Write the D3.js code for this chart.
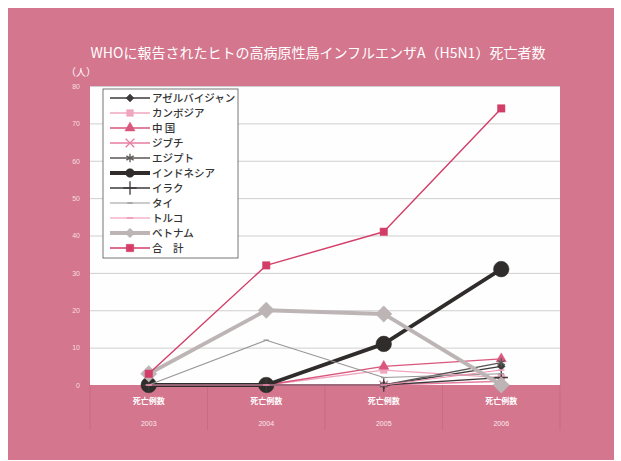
<!DOCTYPE html>
<html>
<head>
<meta charset="utf-8">
<script src="https://cdn.jsdelivr.net/npm/d3@7"></script>
<style>
    body { margin: 0; background: #fff; }
    svg { display: block; font-family: "Noto Sans CJK JP", "Noto Sans", sans-serif; }
</style>
</head>
<body>
<div id="root"></div>
<script>
const years = ['2003', '2004', '2005', '2006'];
const catLabel = '死亡例数';
const yTicks = [0, 10, 20, 30, 40, 50, 60, 70, 80];

// deaths per year
const azerbaijan = [0, 0, 0, 5];
const cambodia = [0, 0, 4, 2];
const china = [0, 0, 5, 7];
const djibouti = [0, 0, 0, 1];
const egypt = [0, 0, 0, 6];
const indonesia = [0, 0, 11, 31];
const iraq = [0, 0, 0, 2];
const thailand = [0, 12, 2, 3];
const turkey = [0, 0, 0, 4];
const vietnam = [3, 20, 19, 0];
const total = [3, 32, 41, 74];

const names = ['アゼルバイジャン', 'カンボジア', '中 国', 'ジブチ', 'エジプト', 'インドネシア', 'イラク', 'タイ', 'トルコ', 'ベトナム', '合　計'];
const values = [azerbaijan, cambodia, china, djibouti, egypt, indonesia, iraq, thailand, turkey, vietnam, total];

const dash = { draw(ctx, size) { const r = Math.sqrt(size) / 2; ctx.moveTo(-r, 0); ctx.lineTo(r, 0); } };

const styles = [
    { color: '#3d3a3a', width: 1.3, symbol: d3.symbolDiamond2, size: 40, fill: true },
    { color: '#efa6bf', width: 1.3, symbol: d3.symbolSquare, size: 45, fill: true },
    { color: '#d9567c', width: 1.3, symbol: d3.symbolTriangle, size: 45, fill: true },
    { color: '#e77da0', width: 1.3, symbol: d3.symbolTimes, size: 50, fill: false },
    { color: '#5a5656', width: 1.3, symbol: d3.symbolAsterisk, size: 50, fill: false },
    { color: '#2f2c2b', width: 3.8, symbol: d3.symbolCircle, size: 190, fill: true },
    { color: '#3d3a3a', width: 1.3, symbol: d3.symbolPlus, size: 60, fill: false },
    { color: '#9a9696', width: 1.1, symbol: dash, size: 30, fill: false },
    { color: '#f08db0', width: 1.1, symbol: dash, size: 40, fill: false },
    { color: '#bdb5b5', width: 3.8, symbol: d3.symbolDiamond2, size: 170, fill: true },
    { color: '#d33d68', width: 1.4, symbol: d3.symbolSquare, size: 55, fill: true },
];

const W = 621;
const H = 461;
const plot = { left: 90, right: 560, top: 86, bottom: 385 };

const svg = d3.select('#root')
    .append('svg')
    .attr('width', W)
    .attr('height', H);

svg.append('rect')
    .attr('x', 8).attr('y', 8)
    .attr('width', 606).attr('height', 452)
    .attr('fill', '#d4768d');

const x = d3.scaleBand().domain(years).range([plot.left, plot.right]);
const y = d3.scaleLinear().domain([0, 80]).range([plot.bottom, plot.top]);

svg.append('rect')
    .attr('x', plot.left).attr('y', plot.top)
    .attr('width', plot.right - plot.left).attr('height', plot.bottom - plot.top)
    .attr('fill', '#fefefe');

// gridlines
svg.append('g')
    .attr('transform', `translate(${plot.left},0)`)
    .call(d3.axisLeft(y).tickValues(yTicks.slice(1)).tickSize(-(plot.right - plot.left)).tickFormat(''))
    .call(g => g.select('.domain').remove())
    .call(g => g.selectAll('line').attr('stroke', '#cfcfcf').attr('stroke-width', 1));

// y tick labels
svg.append('g')
    .attr('transform', 'translate(80,0)')
    .call(d3.axisLeft(y).tickValues(yTicks).tickSize(0).tickPadding(0))
    .call(g => g.select('.domain').remove())
    .call(g => g.selectAll('text')
        .attr('fill', '#f6dde4')
        .style('font-size', '7px')
        .style('font-family', '"Liberation Sans", Arial, sans-serif'));

// category separators and labels
const seps = years.map(yr => x(yr)).concat([plot.right]);
svg.append('g')
    .selectAll('line')
    .data(seps)
    .join('line')
    .attr('x1', d => d).attr('x2', d => d)
    .attr('y1', plot.bottom).attr('y2', 430)
    .attr('stroke', '#c86c83')
    .attr('stroke-width', 1);

const xc = yr => x(yr) + x.bandwidth() / 2;

svg.append('g')
    .selectAll('text')
    .data(years)
    .join('text')
    .attr('x', xc)
    .attr('y', 404)
    .attr('text-anchor', 'middle')
    .attr('fill', '#fff')
    .style('font-size', '8px')
    .style('font-weight', 'bold')
    .text(catLabel);

svg.append('g')
    .selectAll('text')
    .data(years)
    .join('text')
    .attr('x', xc)
    .attr('y', 426)
    .attr('text-anchor', 'middle')
    .attr('fill', '#fbe9ee')
    .style('font-size', '7px')
    .style('font-family', '"Liberation Sans", Arial, sans-serif')
    .text(d => d);

// series
const line = d3.line()
    .x((d, k) => xc(years[k]))
    .y(d => y(d));

values.forEach((vals, si) => {
    const s = styles[si];
    const g = svg.append('g');
    g.append('path')
        .attr('d', line(vals))
        .attr('fill', 'none')
        .attr('stroke', s.color)
        .attr('stroke-width', s.width)
        .attr('stroke-linejoin', 'round');
    g.selectAll('path.mark')
        .data(vals)
        .join('path')
        .attr('class', 'mark')
        .attr('transform', (d, k) => `translate(${xc(years[k])},${y(d)})`)
        .attr('d', d3.symbol().type(s.symbol).size(s.size))
        .attr('fill', s.fill ? s.color : 'none')
        .attr('stroke', s.color)
        .attr('stroke-width', s.fill ? 0.5 : 1.3);
});

// legend
const legend = svg.append('g');
legend.append('rect')
    .attr('x', 103).attr('y', 89)
    .attr('width', 135).attr('height', 169)
    .attr('fill', '#fff')
    .attr('stroke', '#555')
    .attr('stroke-width', 0.8);

const rowY = i => 98 + i * 15;
names.forEach((name, si) => {
    const s = styles[si];
    const row = legend.append('g').attr('transform', `translate(0,${rowY(si)})`);
    row.append('line')
        .attr('x1', 110).attr('x2', 150)
        .attr('stroke', s.color)
        .attr('stroke-width', s.width);
    row.append('path')
        .attr('transform', 'translate(130,0)')
        .attr('d', d3.symbol().type(s.symbol).size(Math.min(s.size, 60)))
        .attr('fill', s.fill ? s.color : 'none')
        .attr('stroke', s.color)
        .attr('stroke-width', s.fill ? 0.5 : 1.3);
    row.append('text')
        .attr('x', 152)
        .attr('y', 4)
        .attr('fill', '#333')
        .style('font-size', '10.5px')
        .style('font-weight', '500')
        .text(name);
});

// title
svg.append('text')
    .attr('x', 318)
    .attr('y', 58)
    .attr('text-anchor', 'middle')
    .attr('fill', '#fff')
    .style('font-size', '14px')
    .text('WHOに報告されたヒトの高病原性鳥インフルエンザA（H5N1）死亡者数');

svg.append('text')
    .attr('x', 66)
    .attr('y', 76)
    .attr('fill', '#fff')
    .style('font-size', '10px')
    .text('（人）');
</script>
</body>
</html>
